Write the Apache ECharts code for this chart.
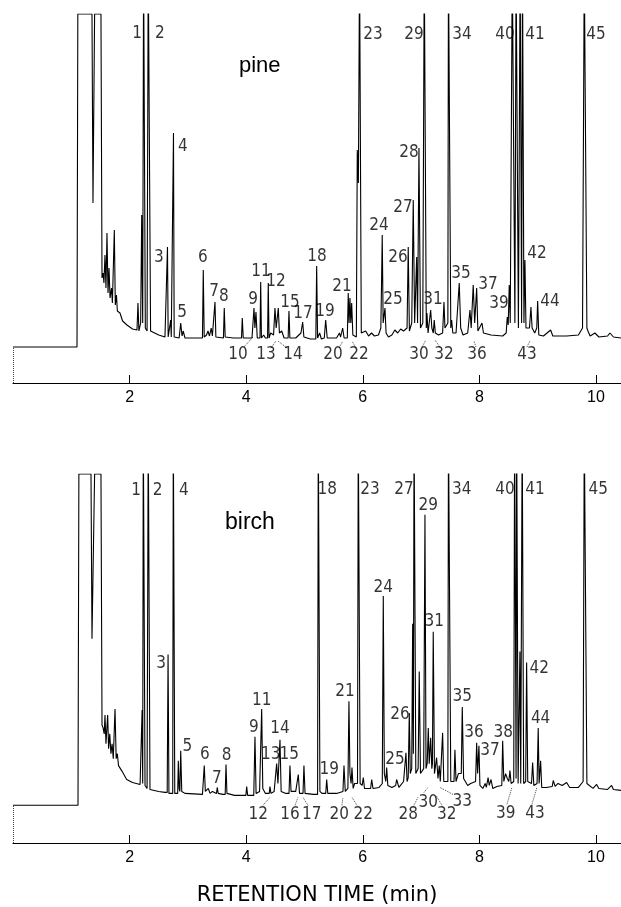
<!DOCTYPE html>
<html>
<head>
<meta charset="utf-8">
<script src="https://cdn.jsdelivr.net/npm/echarts@6/dist/echarts.min.js"></script>
<style>
  html, body { margin: 0; padding: 0; background: #fff; }
  #chart { width: 621px; height: 907px; }
</style>
</head>
<body>
<div id="chart"></div>
<script>
// retention time (min) vs detector response
// values above the pen limit are off scale and get clipped
const pineTrace = [
  [0, 36], [1.098, 36], [1.112, 369], [1.355, 369], [1.372, 180], [1.400, 369], [1.509, 369],
  [1.527, 105], [1.545, 110], [1.560, 100], [1.578, 128], [1.595, 95], [1.612, 150], [1.630, 90],
  [1.647, 115], [1.665, 85], [1.690, 95], [1.705, 80], [1.738, 153], [1.755, 78], [1.775, 88],
  [1.790, 72], [1.835, 70], [1.880, 62], [1.955, 58], [2.050, 54], [2.127, 53], [2.144, 80],
  [2.160, 52], [2.190, 60], [2.208, 168], [2.225, 60], [2.240, 420], [2.255, 420], [2.270, 55],
  [2.300, 52], [2.320, 420], [2.340, 420], [2.360, 52], [2.384, 50], [2.500, 48], [2.607, 46],
  [2.640, 46], [2.650, 136], [2.662, 46], [2.695, 46], [2.705, 63], [2.715, 46], [2.742, 46],
  [2.753, 250], [2.765, 46], [2.850, 45], [2.877, 60], [2.900, 47], [2.920, 52], [2.950, 45],
  [3.250, 45], [3.264, 113], [3.280, 46], [3.320, 48], [3.345, 52], [3.370, 47], [3.400, 55],
  [3.420, 47], [3.450, 46], [3.465, 81], [3.480, 46], [3.610, 45], [3.624, 75], [3.640, 46],
  [3.780, 45], [3.920, 45], [3.933, 65], [3.950, 45], [4.100, 45], [4.134, 75], [4.150, 55],
  [4.168, 71], [4.190, 45], [4.237, 45], [4.249, 101], [4.262, 45], [4.300, 48], [4.330, 45],
  [4.367, 45], [4.379, 100], [4.392, 45], [4.420, 50], [4.470, 48], [4.494, 75], [4.515, 55],
  [4.551, 75], [4.570, 50], [4.610, 52], [4.650, 45], [4.720, 45], [4.734, 72], [4.750, 45],
  [4.850, 45], [4.940, 50], [4.969, 61], [4.990, 46], [5.100, 44], [5.195, 44], [5.209, 117],
  [5.225, 45], [5.260, 50], [5.290, 44], [5.340, 45], [5.364, 63], [5.390, 45], [5.550, 45],
  [5.600, 50], [5.620, 46], [5.655, 55], [5.680, 45], [5.735, 45], [5.751, 90], [5.765, 60],
  [5.780, 85], [5.795, 60], [5.810, 80], [5.830, 48], [5.890, 46], [5.906, 233], [5.925, 200],
  [5.945, 420], [5.960, 420], [5.975, 50], [6.000, 48], [6.050, 52], [6.100, 47], [6.150, 50],
  [6.200, 47], [6.270, 48], [6.310, 55], [6.324, 106], [6.334, 148], [6.350, 60], [6.381, 75],
  [6.400, 50], [6.440, 46], [6.500, 48], [6.550, 53], [6.600, 50], [6.650, 54], [6.700, 52],
  [6.760, 55], [6.780, 136], [6.800, 52], [6.840, 60], [6.866, 183], [6.890, 60], [6.925, 126],
  [6.940, 60], [6.964, 235], [6.990, 55], [7.030, 60], [7.055, 420], [7.070, 420], [7.090, 55],
  [7.101, 70], [7.120, 50], [7.150, 52], [7.165, 73], [7.185, 55], [7.210, 50], [7.226, 63],
  [7.245, 50], [7.300, 48], [7.370, 50], [7.393, 81], [7.410, 55], [7.460, 60], [7.470, 420],
  [7.490, 420], [7.510, 55], [7.525, 63], [7.545, 50], [7.600, 50], [7.655, 100], [7.680, 55],
  [7.720, 48], [7.800, 50], [7.839, 73], [7.860, 55], [7.895, 98], [7.920, 60], [7.954, 95],
  [7.975, 52], [8.045, 60], [8.070, 50], [8.200, 48], [8.400, 47], [8.460, 50], [8.479, 66],
  [8.495, 58], [8.513, 98], [8.530, 60], [8.565, 420], [8.590, 420], [8.610, 60], [8.630, 420],
  [8.650, 420], [8.670, 55], [8.700, 420], [8.715, 420], [8.725, 60], [8.740, 420], [8.752, 420],
  [8.765, 60], [8.782, 123], [8.800, 55], [8.860, 55], [8.885, 76], [8.905, 55], [8.950, 50],
  [8.985, 55], [9.000, 82], [9.020, 48], [9.100, 47], [9.223, 53], [9.260, 47], [9.500, 47],
  [9.700, 48], [9.770, 55], [9.800, 420], [9.822, 420], [9.845, 55], [9.863, 52], [9.900, 47],
  [9.983, 50], [10.050, 46], [10.200, 47], [10.240, 50], [10.300, 46], [10.430, 45]
];

const birchTrace = [
  [0, 38], [1.115, 38], [1.130, 372], [1.338, 372], [1.355, 206], [1.400, 372], [1.509, 372],
  [1.527, 119], [1.545, 116], [1.565, 110], [1.578, 129], [1.595, 100], [1.624, 129], [1.640, 95],
  [1.660, 110], [1.680, 90], [1.700, 100], [1.720, 85], [1.750, 135], [1.770, 85], [1.790, 90],
  [1.810, 78], [1.864, 73], [1.950, 64], [2.050, 61], [2.180, 59], [2.200, 60], [2.215, 134],
  [2.225, 60], [2.235, 420], [2.250, 420], [2.265, 58], [2.300, 55], [2.320, 420], [2.335, 420],
  [2.350, 54], [2.384, 54], [2.500, 52], [2.607, 51], [2.645, 51], [2.660, 190], [2.675, 50],
  [2.740, 50], [2.750, 420], [2.762, 420], [2.775, 50], [2.825, 50], [2.836, 83], [2.850, 55],
  [2.862, 52], [2.877, 93], [2.895, 52], [2.950, 50], [3.250, 49], [3.270, 50], [3.281, 78],
  [3.300, 52], [3.350, 55], [3.380, 50], [3.420, 52], [3.490, 50], [3.504, 56], [3.520, 50],
  [3.600, 49], [3.640, 49], [3.654, 79], [3.670, 50], [3.800, 48], [3.995, 48], [4.009, 57],
  [4.025, 48], [4.130, 48], [4.151, 107], [4.170, 50], [4.230, 52], [4.250, 52], [4.266, 135],
  [4.285, 55], [4.330, 50], [4.395, 50], [4.408, 57], [4.425, 50], [4.480, 52], [4.505, 52],
  [4.523, 80], [4.545, 60], [4.580, 104], [4.600, 52], [4.680, 50], [4.735, 50], [4.751, 78],
  [4.770, 52], [4.850, 52], [4.880, 52], [4.894, 69], [4.915, 50], [4.975, 50], [4.991, 78],
  [5.010, 50], [5.150, 49], [5.225, 49], [5.237, 420], [5.250, 420], [5.265, 52], [5.300, 50],
  [5.365, 50], [5.381, 64], [5.400, 50], [5.550, 50], [5.660, 52], [5.678, 78], [5.700, 52],
  [5.745, 55], [5.763, 143], [5.780, 70], [5.800, 60], [5.815, 76], [5.835, 55], [5.860, 60],
  [5.910, 60], [5.923, 420], [5.940, 420], [5.955, 60], [5.990, 58], [6.009, 66], [6.030, 55],
  [6.135, 55], [6.153, 64], [6.175, 55], [6.280, 56], [6.335, 60], [6.352, 249], [6.370, 70],
  [6.395, 62], [6.410, 76], [6.430, 58], [6.500, 56], [6.565, 58], [6.581, 64], [6.620, 56],
  [6.700, 62], [6.728, 60], [6.741, 91], [6.760, 62], [6.780, 66], [6.798, 131], [6.815, 70],
  [6.840, 75], [6.856, 221], [6.868, 90], [6.880, 420], [6.895, 420], [6.910, 70], [6.950, 75],
  [6.969, 173], [6.990, 70], [7.045, 75], [7.067, 331], [7.085, 75], [7.105, 80], [7.124, 116],
  [7.140, 80], [7.165, 106], [7.185, 75], [7.195, 80], [7.209, 213], [7.230, 70], [7.250, 68],
  [7.267, 86], [7.290, 65], [7.300, 66], [7.312, 78], [7.330, 62], [7.355, 64], [7.370, 111],
  [7.390, 62], [7.460, 62], [7.470, 420], [7.490, 420], [7.510, 62], [7.565, 62], [7.581, 94],
  [7.600, 62], [7.640, 70], [7.690, 70], [7.707, 137], [7.730, 65], [7.800, 58], [7.850, 60],
  [7.935, 62], [7.954, 101], [7.970, 70], [7.993, 98], [8.010, 58], [8.060, 55], [8.100, 60],
  [8.120, 56], [8.150, 66], [8.170, 58], [8.200, 64], [8.230, 55], [8.300, 57], [8.385, 58],
  [8.400, 103], [8.420, 62], [8.450, 70], [8.480, 65], [8.505, 62], [8.525, 73], [8.545, 60],
  [8.590, 62], [8.605, 420], [8.618, 420], [8.630, 65], [8.640, 420], [8.652, 420], [8.665, 60],
  [8.685, 60], [8.696, 193], [8.710, 60], [8.735, 420], [8.748, 420], [8.760, 60], [8.795, 62],
  [8.811, 182], [8.830, 62], [8.895, 60], [8.914, 81], [8.935, 58], [8.990, 60], [9.010, 116],
  [9.025, 60], [9.040, 58], [9.051, 83], [9.070, 56], [9.150, 56], [9.250, 57], [9.268, 63],
  [9.300, 57], [9.350, 60], [9.420, 58], [9.497, 61], [9.550, 56], [9.700, 56], [9.780, 62],
  [9.800, 420], [9.822, 420], [9.845, 60], [9.950, 55], [10.012, 59], [10.050, 55], [10.200, 54],
  [10.269, 58], [10.300, 54], [10.430, 53]
];

// peak numbers: [label, time, response] where the number sits
const pineLabels = [
  ['1', 2.127, 349], ['2', 2.521, 349], ['3', 2.504, 125], ['4', 2.916, 236], ['5', 2.899, 70],
  ['6', 3.259, 125], ['7', 3.448, 91], ['8', 3.619, 86], ['9', 4.117, 83], ['10', 3.859, 28],
  ['11', 4.254, 111], ['12', 4.511, 101], ['13', 4.340, 28], ['14', 4.803, 28], ['15', 4.751, 80],
  ['17', 4.974, 69], ['18', 5.214, 126], ['19', 5.352, 71], ['20', 5.489, 28], ['21', 5.643, 96],
  ['22', 5.935, 28], ['23', 6.175, 348], ['24', 6.278, 157], ['25', 6.518, 83], ['26', 6.604, 125],
  ['27', 6.690, 175], ['28', 6.792, 230], ['29', 6.878, 348], ['30', 6.964, 28], ['31', 7.204, 83],
  ['32', 7.393, 28], ['34', 7.702, 348], ['35', 7.684, 109], ['36', 7.959, 28], ['37', 8.147, 98],
  ['39', 8.336, 79], ['40', 8.439, 348], ['41', 8.954, 348], ['42', 8.988, 129], ['43', 8.816, 28],
  ['44', 9.211, 81], ['45', 10.0, 348]
];

const birchLabels = [
  ['1', 2.110, 355], ['2', 2.482, 355], ['3', 2.539, 181], ['4', 2.933, 355], ['5', 2.990, 97],
  ['6', 3.293, 89], ['7', 3.499, 65], ['8', 3.666, 88], ['9', 4.134, 116], ['11', 4.266, 144],
  ['12', 4.208, 29], ['13', 4.420, 89], ['14', 4.580, 115], ['15', 4.739, 89], ['16', 4.751, 29],
  ['17', 5.123, 29], ['18', 5.391, 356], ['19', 5.425, 74], ['20', 5.597, 29], ['21', 5.695, 153],
  ['22', 6.009, 29], ['23', 6.123, 356], ['24', 6.352, 257], ['25', 6.552, 84], ['26', 6.638, 129],
  ['27', 6.707, 356], ['28', 6.780, 29], ['29', 7.124, 340], ['30', 7.124, 41], ['31', 7.226, 223],
  ['32', 7.439, 29], ['33', 7.707, 42], ['34', 7.696, 356], ['35', 7.707, 148], ['36', 7.907, 111],
  ['37', 8.182, 93], ['38', 8.410, 111], ['39', 8.451, 30], ['40', 8.439, 356], ['41', 8.954, 356],
  ['42', 9.027, 176], ['43', 8.954, 30], ['44', 9.051, 125], ['45', 10.040, 356]
];

// dotted pointers from the lower numbers up to their peaks
const pineLeaders = [
  [[0, 0], [0, 36]],
  [[3.962, 36], [4.117, 46]], [[4.426, 35], [4.511, 42]], [[4.700, 35], [4.545, 42]],
  [[5.592, 35], [5.660, 42]], [[5.883, 35], [5.815, 42]], [[7.015, 36], [7.084, 43]],
  [[7.324, 36], [7.238, 43]], [[7.942, 36], [7.907, 42]], [[8.816, 36], [8.868, 42]]
];

const birchLeaders = [
  [[0, 0], [0, 38]],
  [[4.288, 38], [4.408, 46]], [[4.837, 38], [4.889, 46]], [[5.060, 38], [4.974, 46]],
  [[5.643, 38], [5.660, 46]], [[5.900, 38], [5.815, 46]], [[6.878, 38], [6.947, 46]],
  [[7.050, 51], [7.118, 56]], [[7.359, 38], [7.256, 48]], [[7.547, 49], [7.324, 56]],
  [[8.473, 39], [8.559, 56]], [[8.902, 39], [8.988, 56]]
];

const timeTicks = [2, 4, 6, 8, 10];

const chart = echarts.init(document.getElementById('chart'));

const labelFont = '"Liberation Sans Narrow", "DejaVu Sans Condensed", "Liberation Sans", sans-serif';

function timeAxis(gridIndex, withName) {
  return {
    type: 'value',
    gridIndex: gridIndex,
    min: 0,
    max: 10.43,
    interval: 2,
    axisLine: { lineStyle: { color: '#000', width: 1 } },
    axisTick: { inside: true, length: 8, customValues: timeTicks, lineStyle: { color: '#000' } },
    axisLabel: {
      customValues: timeTicks,
      color: '#000',
      fontSize: 16,
      margin: 7,
      fontFamily: '"Liberation Sans", sans-serif'
    },
    splitLine: { show: false },
    name: withName ? 'RETENTION TIME (min)' : '',
    nameLocation: 'middle',
    nameGap: 42,
    nameTextStyle: { color: '#000', fontSize: 21, fontFamily: '"DejaVu Sans", sans-serif' }
  };
}

function responseAxis(gridIndex, max) {
  return {
    type: 'value',
    gridIndex: gridIndex,
    min: 0,
    max: max,
    show: false
  };
}

function traceSeries(idx, data) {
  return {
    type: 'line',
    xAxisIndex: idx,
    yAxisIndex: idx,
    data: data,
    showSymbol: false,
    clip: true,
    lineStyle: { color: '#000', width: 1.1 },
    silent: true
  };
}

function labelSeries(idx, labels) {
  return {
    type: 'scatter',
    xAxisIndex: idx,
    yAxisIndex: idx,
    symbolSize: 1,
    itemStyle: { color: 'rgba(0,0,0,0)' },
    data: labels.map(l => ({ name: l[0], value: [l[1], l[2]] })),
    label: {
      show: true,
      position: 'inside',
      formatter: '{b}',
      color: '#000',
      fontSize: 17,
      fontFamily: labelFont
    },
    silent: true
  };
}

function leaderSeries(idx, leaders) {
  return {
    type: 'lines',
    coordinateSystem: 'cartesian2d',
    xAxisIndex: idx,
    yAxisIndex: idx,
    data: leaders.map(c => ({ coords: c })),
    lineStyle: { color: '#444', width: 1, type: 'dotted', opacity: 1 },
    silent: true
  };
}

const option = {
  animation: false,
  backgroundColor: '#fff',
  title: [
    { text: 'pine', left: 234, top: 50, textStyle: { fontSize: 22, fontWeight: 'normal', color: '#000', fontFamily: '"Liberation Sans", sans-serif' } },
    { text: 'birch', left: 220, top: 506, textStyle: { fontSize: 23, fontWeight: 'normal', color: '#000', fontFamily: '"Liberation Sans", sans-serif' } }
  ],
  grid: [
    { left: 13, right: 0, top: 14, height: 369 },
    { left: 13, right: 0, top: 474, height: 372 }
  ],
  xAxis: [timeAxis(0, false), timeAxis(1, true)],
  yAxis: [responseAxis(0, 369), responseAxis(1, 372)],
  series: [
    traceSeries(0, pineTrace),
    traceSeries(1, birchTrace),
    labelSeries(0, pineLabels),
    labelSeries(1, birchLabels),
    leaderSeries(0, pineLeaders),
    leaderSeries(1, birchLeaders)
  ]
};

chart.setOption(option);
</script>
</body>
</html>
